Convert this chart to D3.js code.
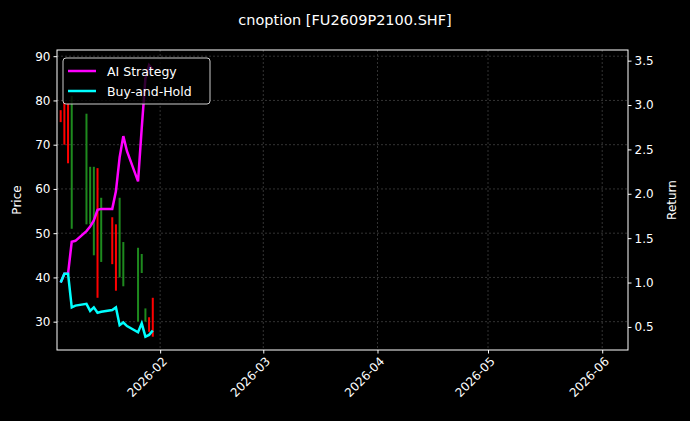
<!DOCTYPE html>
<html><head><meta charset="utf-8">
<script src="https://cdn.jsdelivr.net/npm/d3@7"></script>
<style>body{margin:0;background:#000}svg{display:block}text{font-family:"DejaVu Sans",sans-serif;fill:#fff}</style>
</head><body><svg id="c" width="690" height="421"></svg>
<script>
const candleDates=["2026-01-05","2026-01-06","2026-01-07","2026-01-08","2026-01-12","2026-01-13","2026-01-14","2026-01-15","2026-01-16","2026-01-19","2026-01-20","2026-01-21","2026-01-22","2026-01-26","2026-01-27","2026-01-28","2026-01-29","2026-01-30"];
const opens =[77.8,79.6,79.4,51,52,52,45,64.7,43.5,53.6,52,40,38,30,41,30,31,35.4];
const closes=[75.1,70,65.8,81,77,65,65,35.4,58,43,37,58,48,46.7,45.3,33,27.7,26.6];
const lineDates=["2026-01-05","2026-01-06","2026-01-07","2026-01-08","2026-01-09","2026-01-12","2026-01-13","2026-01-14","2026-01-15","2026-01-16","2026-01-19","2026-01-20","2026-01-21","2026-01-22","2026-01-23","2026-01-26","2026-01-27","2026-01-28","2026-01-29","2026-01-30"];
const aiReturn=[1.0,1.10,1.10,1.46,1.47,1.58,1.63,1.70,1.82,1.83,1.83,2.03,2.41,2.65,2.48,2.14,2.74,3.30,3.45,3.40];
const bhReturn=[1.0,1.10,1.10,0.72,0.74,0.76,0.68,0.72,0.66,0.67,0.69,0.72,0.52,0.55,0.51,0.44,0.54,0.39,0.41,0.46];
const xDomain=["2026-01-04","2026-06-08"];
const xTicks=["2026-02-01","2026-03-01","2026-04-01","2026-05-01","2026-06-01"];
const priceTicks=[30,40,50,60,70,80,90];
const retTicks=[0.5,1.0,1.5,2.0,2.5,3.0,3.5];

const P=d3.timeParse("%Y-%m-%d");
const svg=d3.select("#c");
svg.append("rect").attr("width",690).attr("height",421).attr("fill","#000");
const L=57,R=628,T=50,B=350;
const x=d3.scaleTime().domain(xDomain.map(P)).range([L,R]);
const yP=d3.scaleLinear().domain([23.6,91.4]).range([B,T]);
const yR=d3.scaleLinear().domain([0.24,3.62]).range([B,T]);
const g=svg.append("g");
xTicks.forEach(t=>g.append("line").attr("x1",x(P(t))).attr("x2",x(P(t))).attr("y1",T).attr("y2",B).attr("stroke","#555").attr("stroke-width",0.6).attr("stroke-dasharray","2,2"));
priceTicks.forEach(t=>g.append("line").attr("x1",L).attr("x2",R).attr("y1",yP(t)).attr("y2",yP(t)).attr("stroke","#555").attr("stroke-width",0.6).attr("stroke-dasharray","2,2"));
candleDates.forEach((d,i)=>{const o=opens[i],c=closes[i];
 g.append("rect").attr("x",x(P(d))-1).attr("width",2).attr("y",yP(Math.max(o,c))).attr("height",Math.abs(yP(o)-yP(c))).attr("fill",c>=o?"#1e8a1e":"#ff0000");});
svg.append("clipPath").attr("id","cl").append("rect").attr("x",L).attr("y",T).attr("width",R-L).attr("height",B-T);
const line=d3.line().x((d,i)=>x(P(lineDates[i]))).y(d=>yR(d));
g.append("path").attr("d",line(aiReturn)).attr("fill","none").attr("stroke","#ff00ff").attr("stroke-width",2.5).attr("clip-path","url(#cl)");
g.append("path").attr("d",line(bhReturn)).attr("fill","none").attr("stroke","#00ffff").attr("stroke-width",2.5).attr("clip-path","url(#cl)");
svg.append("rect").attr("x",L).attr("y",T).attr("width",R-L).attr("height",B-T).attr("fill","none").attr("stroke","#fff").attr("stroke-width",1);
const ax=svg.append("g").attr("transform",`translate(0,${B})`).call(d3.axisBottom(x).tickValues(xTicks.map(P)).tickFormat(d3.timeFormat("%Y-%m")).tickSize(3.5));
ax.selectAll("text").attr("transform","rotate(-45)").attr("text-anchor","end").attr("dx","-0.3em").attr("dy","0.6em").style("font-size","12px");
const al=svg.append("g").attr("transform",`translate(${L},0)`).call(d3.axisLeft(yP).tickValues(priceTicks).tickSize(3.5));
al.selectAll("text").style("font-size","12px");
const ar=svg.append("g").attr("transform",`translate(${R},0)`).call(d3.axisRight(yR).tickValues(retTicks).tickFormat(d3.format(".1f")).tickSize(3.5));
ar.selectAll("text").style("font-size","12px");
[ax,al,ar].forEach(a=>{a.select(".domain").remove();a.selectAll("line").attr("stroke","#fff");a.selectAll("text").attr("fill","#fff");});
svg.append("text").attr("x",345).attr("y",25).attr("text-anchor","middle").style("font-size","14.5px").text("cnoption [FU2609P2100.SHF]");
svg.append("text").attr("transform","translate(21,200) rotate(-90)").attr("text-anchor","middle").style("font-size","12px").text("Price");
svg.append("text").attr("transform","translate(676,200) rotate(-90)").attr("text-anchor","middle").style("font-size","12px").text("Return");
const lg=svg.append("g");
lg.append("rect").attr("x",63).attr("y",58).attr("width",147).attr("height",46).attr("rx",3).attr("fill","#000").attr("fill-opacity",0.8).attr("stroke","#ccc");
[["AI Strategy","#ff00ff"],["Buy-and-Hold","#00ffff"]].forEach(([t,c],i)=>{const yy=71+i*20;
 lg.append("line").attr("x1",68).attr("x2",96).attr("y1",yy).attr("y2",yy).attr("stroke",c).attr("stroke-width",2.5);
 lg.append("text").attr("x",107).attr("y",yy+4.5).style("font-size","12.5px").text(t);});
</script></body></html>
